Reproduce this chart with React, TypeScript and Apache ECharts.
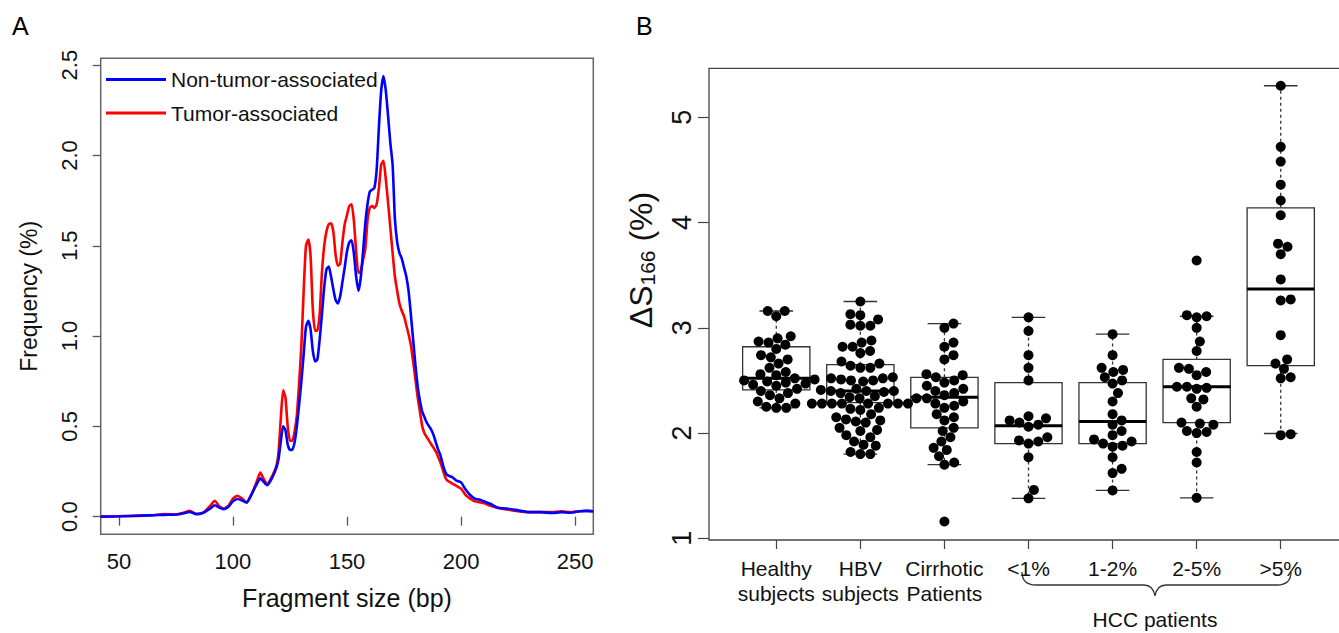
import React, { useEffect, useRef } from "react";
import * as echarts from "echarts";

// ---------- Panel A: fragment size distribution ----------
const fragmentSizes = [
  42, 50, 60, 65, 70, 75, 78, 81, 84, 87, 90, 92, 94, 96, 98, 100, 102, 104, 106, 108,
  110, 112, 113, 115, 117, 119, 120, 121, 122, 123, 124, 125, 126, 127, 128, 129, 130,
  131, 132, 133, 134, 135, 136, 137, 138, 139, 140, 141, 142, 143, 144, 145, 146, 147,
  148, 149, 150, 151, 152, 153, 154, 155, 156, 157, 158, 159, 160, 161, 162, 163, 164,
  165, 166, 167, 168, 169, 170, 171, 172, 173, 174, 175, 176, 177, 178, 179, 180, 181,
  182, 183, 184, 185, 186, 187, 188, 189, 190, 191, 192, 193, 194, 196, 198, 200, 202,
  204, 206, 208, 210, 213, 216, 220, 225, 230, 235, 240, 244, 248, 252, 255, 258,
];
const nonTumorFreq = [
  0.0, 0.002, 0.006, 0.008, 0.01, 0.012, 0.018, 0.026, 0.014, 0.022, 0.045, 0.063, 0.05, 0.042, 0.055, 0.085, 0.098, 0.09, 0.078, 0.12,
  0.17, 0.212, 0.2, 0.174, 0.21, 0.27, 0.32, 0.42, 0.5, 0.48, 0.4, 0.37, 0.37, 0.41, 0.5, 0.62, 0.75,
  0.9, 1.05, 1.085, 1.04, 0.92, 0.86, 0.87, 0.98, 1.12, 1.27, 1.37, 1.385, 1.33, 1.26, 1.2, 1.18, 1.22,
  1.3, 1.38, 1.47, 1.52, 1.53, 1.46, 1.33, 1.25, 1.32, 1.46, 1.62, 1.73, 1.8, 1.81, 1.82, 1.92, 2.16,
  2.36, 2.44, 2.36, 2.22, 2.07, 1.95, 1.65, 1.52, 1.46, 1.43, 1.38, 1.33, 1.25, 1.12, 0.98, 0.84, 0.72,
  0.64, 0.58, 0.55, 0.52, 0.5, 0.48, 0.45, 0.41, 0.37, 0.34, 0.29, 0.25, 0.23, 0.22, 0.2, 0.19, 0.15,
  0.12, 0.1, 0.095, 0.085, 0.07, 0.05, 0.045, 0.035, 0.025, 0.025, 0.02, 0.025, 0.022, 0.03, 0.032, 0.03,
];
const tumorFreq = [
  0.0, 0.002, 0.006, 0.008, 0.014, 0.012, 0.02, 0.032, 0.015, 0.022, 0.06, 0.088, 0.058, 0.045, 0.06, 0.1, 0.116, 0.1, 0.08, 0.12,
  0.18, 0.244, 0.22, 0.18, 0.22, 0.28, 0.36, 0.55, 0.7, 0.66, 0.5, 0.42, 0.42, 0.47, 0.56, 0.74, 0.95,
  1.25, 1.5, 1.535, 1.45, 1.15, 1.03, 1.03, 1.12, 1.35, 1.5, 1.58, 1.62, 1.625, 1.58, 1.45, 1.39, 1.4,
  1.52, 1.62, 1.67, 1.72, 1.73, 1.64, 1.47, 1.35, 1.36, 1.42, 1.48, 1.64, 1.71, 1.72, 1.71, 1.73, 1.82,
  1.95, 1.97, 1.87, 1.74, 1.6, 1.46, 1.33, 1.25, 1.18, 1.14, 1.11, 1.06, 1.01, 0.95, 0.86, 0.76, 0.66,
  0.58, 0.5, 0.46, 0.44, 0.42, 0.4, 0.38, 0.36, 0.33, 0.3, 0.26, 0.22, 0.2, 0.185, 0.17, 0.155, 0.12,
  0.1, 0.085, 0.08, 0.075, 0.06, 0.05, 0.04, 0.03, 0.025, 0.025, 0.025, 0.03, 0.025, 0.03, 0.032, 0.03,
];
const xTicksA = [50, 100, 150, 200, 250];
const yTicksA = [0, 0.5, 1, 1.5, 2, 2.5];

// ---------- Panel B: ΔS166 by group ----------
const groupLabels = [
  "Healthy\nsubjects",
  "HBV\nsubjects",
  "Cirrhotic\nPatients",
  "<1%",
  "1-2%",
  "2-5%",
  ">5%",
];
const healthy = [
  3.16, 3.16, 3.11, 2.92, 2.9, 2.87, 2.86, 2.84, 2.8, 2.74, 2.72, 2.7, 2.66, 2.62, 2.58, 2.56, 2.55,
  2.52, 2.51, 2.5, 2.49, 2.48, 2.47, 2.46, 2.45, 2.42, 2.4, 2.38, 2.36, 2.33, 2.3, 2.28, 2.25, 2.24, 2.24,
];
const hbv = [
  3.25, 3.13, 3.12, 3.08, 3.03, 3.02, 3.02, 2.88, 2.86, 2.82, 2.82, 2.78, 2.76, 2.68, 2.66, 2.64,
  2.62, 2.62, 2.53, 2.52, 2.52, 2.51, 2.5, 2.5, 2.49, 2.42, 2.41, 2.4, 2.4, 2.4, 2.39, 2.38, 2.35,
  2.34, 2.33, 2.33, 2.28, 2.28, 2.28, 2.28, 2.28, 2.28, 2.28, 2.28, 2.24, 2.23, 2.22,
  2.18, 2.15, 2.13, 2.12, 2.11, 2.1, 2.05, 2.03, 2.02, 1.98, 1.96, 1.92, 1.89, 1.88, 1.82, 1.8, 1.8,
];
const cirrhotic = [
  3.04, 3.0, 2.86, 2.82, 2.74, 2.7, 2.56, 2.55, 2.53, 2.5, 2.48, 2.45, 2.42, 2.4, 2.38, 2.36, 2.33,
  2.3, 2.28, 2.26, 2.24, 2.18, 2.15, 2.12, 2.05, 2.02, 1.96, 1.92, 1.86, 1.84, 1.78, 1.72, 1.7, 1.16,
];
const hccBelow1 = [
  3.1, 2.97, 2.74, 2.62, 2.5, 2.16, 2.14, 2.12, 2.1, 2.08, 2.06, 1.96, 1.93, 1.92, 1.9, 1.77, 1.46, 1.38,
];
const hcc1to2 = [
  2.94, 2.74, 2.62, 2.6, 2.58, 2.53, 2.5, 2.47, 2.38, 2.3, 2.18, 2.12, 2.08, 2.02, 1.98, 1.94, 1.92,
  1.9, 1.88, 1.87, 1.77, 1.66, 1.62, 1.455,
];
const hcc2to5 = [
  3.64, 3.12, 3.11, 3.1, 3.0, 2.87, 2.78, 2.62, 2.61, 2.58, 2.55, 2.44, 2.44, 2.43, 2.42, 2.33, 2.32,
  2.25, 2.1, 2.09, 2.08, 2.02, 2.01, 2.0, 1.82, 1.72, 1.385,
];
const hccAbove5 = [
  5.3, 4.72, 4.58, 4.36, 4.21, 4.07, 3.8, 3.77, 3.7, 3.46, 3.27, 3.26, 2.93, 2.7, 2.66, 2.61, 2.53,
  2.52, 1.99, 1.98,
];
const whiskerLow = [2.24, 1.8, 1.7, 1.38, 1.455, 1.385, 1.996];
const quartile1 = [2.41, 2.29, 2.05, 1.9, 1.9, 2.1, 2.64];
const medians = [2.52, 2.4, 2.34, 2.07, 2.11, 2.44, 3.37];
const quartile3 = [2.82, 2.65, 2.53, 2.48, 2.48, 2.7, 4.14];
const whiskerHigh = [3.16, 3.25, 3.04, 3.1, 2.94, 3.11, 5.3];
const yTicksB = [1, 2, 3, 4, 5];

const FONT = "'Liberation Sans', Arial, Helvetica, sans-serif";

// layout of panel B (used for grid and for the beeswarm spacing)
const B_LEFT = 709;
const B_TOP = 68.3;
const B_W = 639;
const B_H = 471.7;
const B_XMIN = 0.2;
const B_XMAX = 7.8;
const B_YMIN = 0.984;
const B_YMAX = 5.466;
const DOT = 10;

// simple "swarm" layout: place points in ascending order as close to the centre as possible
function swarmOffsets(values: number[]): number[] {
  const pxPerY = B_H / (B_YMAX - B_YMIN);
  const unitsPerPxX = (B_XMAX - B_XMIN) / B_W;
  const order = values.map((v, i) => i).sort((a, b) => values[a] - values[b]);
  const placed: { x: number; y: number }[] = [];
  const out = new Array(values.length).fill(0);
  const d = DOT;
  for (const idx of order) {
    const y = values[idx] * pxPerY;
    const cands = [0];
    for (const p of placed) {
      const dy = Math.abs(p.y - y);
      if (dy < d) {
        const dx = Math.sqrt(d * d - dy * dy);
        cands.push(p.x + dx, p.x - dx);
      }
    }
    const ok = cands.filter((cx) =>
      placed.every((p) => (p.x - cx) ** 2 + (p.y - y) ** 2 >= d * d - 1e-6)
    );
    ok.sort((a, b) => Math.abs(a) - Math.abs(b) || b - a);
    const x = ok[0];
    placed.push({ x, y });
    out[idx] = x * unitsPerPxX;
  }
  return out;
}

const bracePath =
  "M1022 572 Q1022 585 1036 585 L1144 585 Q1153 585 1155 596 Q1157 585 1166 585 L1277 585 Q1291 585 1291 572";

export default function App() {
  const ref = useRef<HTMLDivElement>(null);
  useEffect(() => {
    if (!ref.current) return;
    try {
      echarts.graphic.registerShape("brace", echarts.graphic.extendPath(bracePath, {}));
    } catch (e) {}
    const chart = echarts.init(ref.current, null, { renderer: "svg" });

    const groupsData = [healthy, hbv, cirrhotic, hccBelow1, hcc1to2, hcc2to5, hccAbove5];
    const scatterData: number[][] = [];
    groupsData.forEach((vals, gi) => {
      const offs = swarmOffsets(vals);
      vals.forEach((v, i) => scatterData.push([gi + 1 + offs[i], v]));
    });
    const boxData = medians.map((m, i) => [
      i + 1,
      whiskerLow[i],
      quartile1[i],
      m,
      quartile3[i],
      whiskerHigh[i],
    ]);

    const option: any = {
      animation: false,
      backgroundColor: "#ffffff",
      textStyle: { fontFamily: FONT },
      legend: {
        data: ["Non-tumor-associated", "Tumor-associated"],
        orient: "vertical",
        left: 106,
        top: 69,
        padding: 0,
        icon: "rect",
        itemWidth: 60,
        itemHeight: 3,
        itemGap: 12.5,
        textStyle: { fontSize: 21, color: "#111", fontFamily: FONT },
      },
      grid: [
        {
          left: 100.7,
          top: 58.3,
          width: 492.6,
          height: 476,
          show: true,
          borderColor: "#666",
          borderWidth: 1.5,
          containLabel: false,
          outerBoundsMode: "none",
        },
        {
          left: B_LEFT,
          top: B_TOP,
          width: B_W,
          height: B_H,
          show: true,
          borderColor: "#444",
          borderWidth: 1.3,
          containLabel: false,
          outerBoundsMode: "none",
        },
      ],
      xAxis: [
        {
          gridIndex: 0,
          type: "value",
          min: 42,
          max: 258,
          axisLine: { show: false },
          splitLine: { show: false },
          axisTick: { show: true, customValues: xTicksA, length: 9, lineStyle: { color: "#555", width: 1.3 } },
          axisLabel: { customValues: xTicksA, fontSize: 22, color: "#111", margin: 16, fontFamily: FONT },
          name: "Fragment size (bp)",
          nameLocation: "middle",
          nameGap: 51,
          nameTextStyle: { fontSize: 25, color: "#111", fontFamily: FONT },
        },
        {
          gridIndex: 1,
          type: "value",
          min: B_XMIN,
          max: B_XMAX,
          axisLine: { show: false },
          splitLine: { show: false },
          axisTick: { show: true, customValues: [1, 2, 3, 4, 5, 6, 7], length: 9, lineStyle: { color: "#444", width: 1.2 } },
          axisLabel: {
            customValues: [1, 2, 3, 4, 5, 6, 7],
            formatter: (v: number) => groupLabels[Math.round(v) - 1] || "",
            fontSize: 21,
            lineHeight: 25,
            color: "#111",
            margin: 16,
            fontFamily: FONT,
          },
        },
      ],
      yAxis: [
        {
          gridIndex: 0,
          type: "value",
          min: -0.0976,
          max: 2.538,
          axisLine: { show: false },
          splitLine: { show: false },
          axisTick: { show: true, customValues: yTicksA, length: 8, lineStyle: { color: "#555", width: 1.3 } },
          axisLabel: {
            customValues: yTicksA,
            rotate: 90,
            formatter: (v: number) => v.toFixed(1),
            fontSize: 22,
            color: "#111",
            margin: 20,
            fontFamily: FONT,
          },
          name: "Frequency (%)",
          nameLocation: "middle",
          nameRotate: 90,
          nameGap: 60,
          nameTextStyle: { fontSize: 23, color: "#111", fontFamily: FONT },
        },
        {
          gridIndex: 1,
          type: "value",
          min: B_YMIN,
          max: B_YMAX,
          axisLine: { show: false },
          splitLine: { show: false },
          axisTick: { show: true, customValues: yTicksB, length: 11, lineStyle: { color: "#444", width: 1.2 } },
          axisLabel: {
            customValues: yTicksB,
            rotate: 90,
            fontSize: 27,
            color: "#111",
            margin: 14,
            fontFamily: FONT,
          },
        },
      ],
      series: [
        {
          name: "Tumor-associated",
          type: "line",
          xAxisIndex: 0,
          yAxisIndex: 0,
          data: fragmentSizes.map((s, i) => [s, tumorFreq[i]]),
          symbol: "none",
          smooth: 0.2,
          lineStyle: { color: "#ff0000", width: 2.6 },
          itemStyle: { color: "#ff0000" },
          z: 3,
        },
        {
          name: "Non-tumor-associated",
          type: "line",
          xAxisIndex: 0,
          yAxisIndex: 0,
          data: fragmentSizes.map((s, i) => [s, nonTumorFreq[i]]),
          symbol: "none",
          smooth: 0.2,
          lineStyle: { color: "#0000ff", width: 2.6 },
          itemStyle: { color: "#0000ff" },
          z: 4,
        },
        {
          type: "custom",
          xAxisIndex: 1,
          yAxisIndex: 1,
          data: boxData,
          encode: { x: 0, y: [1, 2, 3, 4, 5] },
          z: 2,
          renderItem: (params: any, api: any) => {
            const x = api.value(0);
            const lo = api.coord([x, api.value(1)]);
            const q1 = api.coord([x, api.value(2)]);
            const md = api.coord([x, api.value(3)]);
            const q3 = api.coord([x, api.value(4)]);
            const hi = api.coord([x, api.value(5)]);
            const hw = api.size([0.8, 0])[0] / 2;
            const sw = hw / 2;
            const cx = md[0];
            const stroke = "#333";
            return {
              type: "group",
              children: [
                { type: "line", shape: { x1: cx, y1: q3[1], x2: cx, y2: hi[1] }, style: { stroke, lineWidth: 1.3, lineDash: [3, 3] } },
                { type: "line", shape: { x1: cx, y1: q1[1], x2: cx, y2: lo[1] }, style: { stroke, lineWidth: 1.3, lineDash: [3, 3] } },
                { type: "line", shape: { x1: cx - sw, y1: hi[1], x2: cx + sw, y2: hi[1] }, style: { stroke, lineWidth: 1.3 } },
                { type: "line", shape: { x1: cx - sw, y1: lo[1], x2: cx + sw, y2: lo[1] }, style: { stroke, lineWidth: 1.3 } },
                { type: "rect", shape: { x: cx - hw, y: q3[1], width: hw * 2, height: q1[1] - q3[1] }, style: { fill: "none", stroke, lineWidth: 1.3 } },
                { type: "line", shape: { x1: cx - hw, y1: md[1], x2: cx + hw, y2: md[1] }, style: { stroke: "#000", lineWidth: 3 } },
              ],
            };
          },
        },
        {
          type: "scatter",
          xAxisIndex: 1,
          yAxisIndex: 1,
          data: scatterData,
          symbol: "circle",
          symbolSize: DOT,
          itemStyle: { color: "#000", opacity: 1 },
          z: 5,
        },
      ],
      graphic: [
        { type: "text", left: 12, top: 13, style: { text: "A", fontSize: 25, fill: "#000", fontFamily: FONT } },
        { type: "text", left: 636, top: 13, style: { text: "B", fontSize: 25, fill: "#000", fontFamily: FONT } },
        { type: "brace", x: 0, y: 0, style: { fill: "none", stroke: "#333", lineWidth: 1.3 } },
        {
          type: "text",
          x: 1155,
          y: 619,
          style: { text: "HCC patients", fontSize: 21, fill: "#111", fontFamily: FONT, align: "center", verticalAlign: "middle" },
        },
        {
          type: "text",
          x: 641,
          y: 260,
          rotation: Math.PI / 2,
          style: {
            text: "{d|ΔS}{s|166}{d| (%)}",
            align: "center",
            verticalAlign: "middle",
            fill: "#111",
            fontFamily: FONT,
            rich: {
              d: { fontSize: 32, fill: "#111", fontFamily: FONT },
              s: { fontSize: 21, fill: "#111", fontFamily: FONT, verticalAlign: "bottom", padding: [12, 0, 0, 0] },
            },
          },
        },
      ],
    };
    chart.setOption(option);
    return () => chart.dispose();
  }, []);
  return (
    <div
      ref={ref}
      style={{ position: "fixed", left: 0, top: 0, width: 1339, height: 633, background: "#fff" }}
    />
  );
}
